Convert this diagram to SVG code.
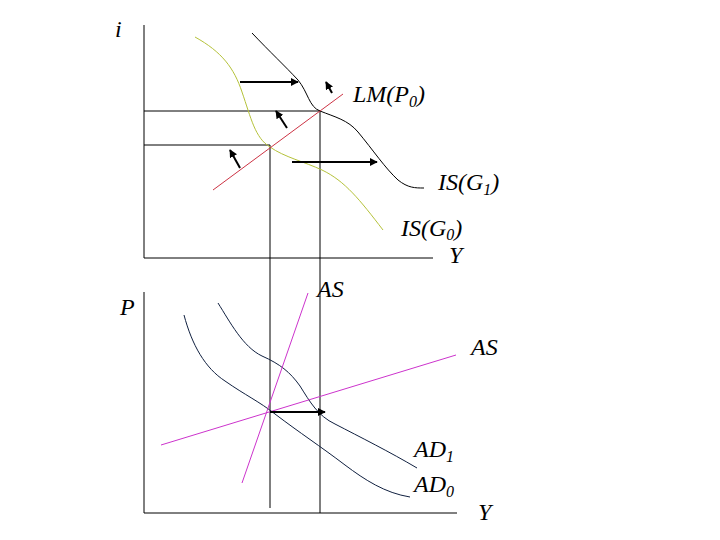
<svg xmlns="http://www.w3.org/2000/svg" width="720" height="540" viewBox="0 0 720 540">
<defs>
<marker id="ah" viewBox="0 0 10 10" refX="9" refY="5" markerWidth="4" markerHeight="4" orient="auto" markerUnits="strokeWidth">
<path d="M0,0 L10,5 L0,10 z" fill="#000"/>
</marker>
<style>
.ax{stroke:#000;stroke-width:1;fill:none}
.cv{fill:none;stroke-width:1}
.arr{stroke:#000;stroke-width:2;fill:none;marker-end:url(#ah)}
text{font-family:"Liberation Serif","Times New Roman",serif;font-style:italic;font-size:24px;fill:#000}
.sub{font-size:16px}
</style>
</defs>
<rect width="720" height="540" fill="#fff"/>
<g id="axes">
<path class="ax" d="M144,25 V258 H433"/>
<path class="ax" d="M144,292 V513 H457"/>
<path class="ax" d="M144,111 H320 V513"/>
<path class="ax" d="M144,145 H270 V508"/>
</g>
<g id="curves">
<path id="IS0" class="cv" stroke="#b5c23a" d="M195,37 C222,52 234,68 242,92 C251,118 255,138 270,147 C284,157 305,162 322,170 C345,181 360,200 383,230"/>
<path id="IS1" class="cv" stroke="#000" d="M252,33 C270,52 285,66 298,80 C308,92 309,107 320,111 C335,117 348,120 358,132 C373,150 385,168 398,180 C408,188 415,188 424,188"/>
<path id="LM" class="cv" stroke="#cc3344" d="M213,190 L343,94"/>
<path id="AD0" class="cv" stroke="#102040" d="M184,315 C192,345 205,368 225,381 C245,395 260,402 275,414 C300,433 320,446 345,465 C365,480 385,493 410,497"/>
<path id="AD1" class="cv" stroke="#102040" d="M218,303 C230,322 243,347 262,356 C280,364 290,372 300,386 C310,402 318,416 335,424 C360,437 390,452 417,468"/>
<path id="AS1" class="cv" stroke="#cc33cc" d="M242,483 L308,293"/>
<path id="AS2" class="cv" stroke="#cc33cc" d="M161,445 L456,355"/>
</g>
<g id="connectors">
<path class="arr" d="M240,82 H298"/>
<path class="arr" d="M292,162 H377"/>
<path class="arr" d="M287,128 L276,111"/>
<path class="arr" d="M240,168 L230,150"/>
<path class="arr" d="M332,93 L326,82"/>
<path class="arr" d="M270,412 H325"/>
</g>
<g id="labels">
<text x="115" y="37">i</text>
<text x="353" y="102">LM(P<tspan class="sub" dy="5">0</tspan><tspan dy="-5">)</tspan></text>
<text x="438" y="190">IS(G<tspan class="sub" dy="5">1</tspan><tspan dy="-5">)</tspan></text>
<text x="401" y="236">IS(G<tspan class="sub" dy="4">0</tspan><tspan dy="-4">)</tspan></text>
<text x="449" y="263">Y</text>
<text x="120" y="315">P</text>
<text x="317" y="297">AS</text>
<text x="471" y="355">AS</text>
<text x="414" y="457">AD<tspan class="sub" dy="5">1</tspan></text>
<text x="414" y="492">AD<tspan class="sub" dy="5">0</tspan></text>
<text x="478" y="520">Y</text>
</g>
</svg>
